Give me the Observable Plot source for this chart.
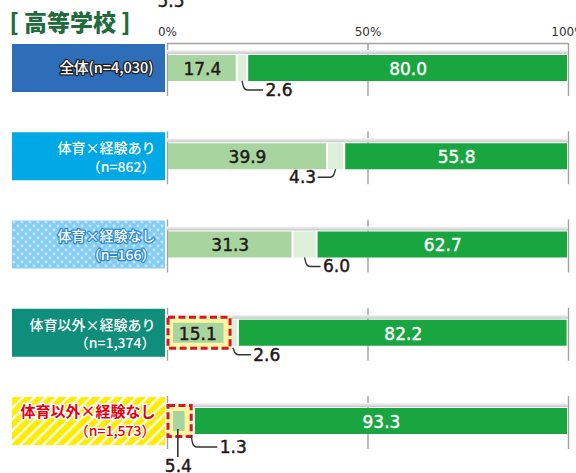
<!DOCTYPE html>
<html><head><meta charset="utf-8">
<script src="https://cdn.jsdelivr.net/npm/d3@7"></script>
<script src="https://cdn.jsdelivr.net/npm/@observablehq/plot@0.6"></script>
<style>html,body{margin:0;padding:0;background:#fff;overflow:hidden}#chart svg{display:block}</style>
</head><body><div id="chart"></div>
<script>
// ---- data ----
const groups = ["全体", "体育×経験あり", "体育×経験なし", "体育以外×経験あり", "体育以外×経験なし"];
const sampleSizes = ["(n=4,030)", "（n=862）", "（n=166）", "（n=1,374）", "（n=1,573）"];
const seriesA = [17.4, 39.9, 31.3, 15.1, 5.4];
const seriesB = [2.6, 4.3, 6.0, 2.6, 1.3];
const seriesC = [80.0, 55.8, 62.7, 82.2, 93.3];
const xTicks = [0, 50, 100];
const highlightedGroups = ["体育以外×経験あり", "体育以外×経験なし"];
const title = "[ 高等学校 ]";
const strayLabel = "5.5";

// ---- style / layout ----
const fontJP = "'Noto Sans CJK JP', 'Noto Sans', sans-serif";
const fontNum = "'DejaVu Sans', sans-serif";
const textDark = "#231815";
const segColors = {a: "#a8d59f", b: "#ddefd9", c: "#19a640"};
const boxFill = ["#2e6db8", "#00a8e6", "url(#dots)", "#0f8e7c", "url(#stripes)"];
const labelFill = ["#ffffff", "#ffffff", "#ffffff", "#ffffff", "#e60012"];
const labelStroke = ["#1e1e1e", "none", "#2a8ad0", "none", "#ffffff"];
const leaderLayout = [
  {side: 1, dy: 22, len: 21},
  {side: -1, dy: 21, len: 18},
  {side: 1, dy: 22, len: 16},
  {side: 1, dy: 22, len: 18},
  {side: 1, dy: 26, len: 26}
];

const rows = groups.map((group, i) => ({
  i, group, n: sampleSizes[i], a: seriesA[i], b: seriesB[i], c: seriesC[i],
  hi: highlightedGroups.includes(group)
}));
const segments = rows.flatMap(r => [
  {i: r.i, key: "a", x1: 0, x2: r.a, hi: r.hi},
  {i: r.i, key: "b", x1: r.a, x2: r.a + r.b, hi: false},
  {i: r.i, key: "c", x1: r.a + r.b, x2: r.a + r.b + r.c, hi: false}
]);
const grid = rows.flatMap(r => xTicks.map(t => ({i: r.i, t})));
const inside = r => r.a >= 10;

function defsMark() {
  const defs = d3.create("svg:defs");
  const dots = defs.append("pattern").attr("id", "dots").attr("patternUnits", "userSpaceOnUse")
    .attr("width", 8).attr("height", 8);
  dots.append("rect").attr("width", 8).attr("height", 8).attr("fill", "#86cdf3");
  dots.append("circle").attr("cx", 2).attr("cy", 2).attr("r", 1.4).attr("fill", "#c4e8fb");
  dots.append("circle").attr("cx", 6).attr("cy", 6).attr("r", 1.4).attr("fill", "#c4e8fb");
  const st = defs.append("pattern").attr("id", "stripes").attr("patternUnits", "userSpaceOnUse")
    .attr("width", 8).attr("height", 8).attr("patternTransform", "rotate(45)");
  st.append("rect").attr("width", 8).attr("height", 8).attr("fill", "#ffec00");
  st.append("rect").attr("width", 2.2).attr("height", 8).attr("fill", "#ffffff");
  const gr = defs.append("linearGradient").attr("id", "shade").attr("x1", 0).attr("y1", 0).attr("x2", 0).attr("y2", 1);
  gr.append("stop").attr("offset", "0%").attr("stop-color", "#f6f6f6");
  gr.append("stop").attr("offset", "100%").attr("stop-color", "#c6c6c6");
  return defs.node();
}

function leaderMark(index, scales) {
  const x = scales.x, y = scales.y;
  const g = d3.create("svg:g").attr("fill", "none").attr("stroke", "#333").attr("stroke-width", 1.3);
  for (const r of rows) {
    const L = leaderLayout[r.i];
    const xm = x(r.a + r.b / 2), yc = y(r.i);
    const y0 = yc + (r.hi ? 15 : 13), yL = yc + L.dy, s = L.side;
    g.append("path").attr("d",
      `M${xm},${y0}L${xm + s},${yL - 5}Q${xm + 2 * s},${yL} ${xm + 6 * s},${yL}L${xm + s * L.len},${yL}`);
    if (!inside(r)) {
      const xa = x(r.a / 2);
      g.append("path").attr("d", `M${xa},${yc + 8}L${xa},${yc + 36}`).attr("stroke-width", 1.6);
    }
  }
  return g.node();
}

const hiSegs = segments.filter(d => d.key === "a" && d.hi);
const halo = {paintOrder: "stroke", strokeLinejoin: "round"};
const numDark = {fontFamily: fontNum, fontSize: 17, fill: textDark, stroke: textDark, strokeWidth: 0.45};

const marks = [
  defsMark,
  // gridline segments per row
  Plot.ruleX(grid, {x: "t", y1: "i", y2: "i", insetTop: -25, insetBottom: -28, stroke: "#a2a2a2", strokeWidth: 1.4}),
  // top axis line
  Plot.ruleY([0], {y: d => d, x1: 0, x2: 100, dy: -25, stroke: "#a2a2a2", strokeWidth: 1.5}),
  // shadow strip above bars
  Plot.rect(rows, {x1: 0, x2: 100, y1: "i", y2: "i", insetTop: -18, insetBottom: 14, fill: "url(#shade)"}),
  // label boxes
  Plot.rect(rows, {x1: 0, x2: 0, y1: "i", y2: "i", insetLeft: -155, insetRight: 2, insetTop: -24, insetBottom: -24,
    fill: d => boxFill[d.i]}),
  // bar segments
  Plot.rect(segments.filter(d => !(d.key === "a" && d.hi)), {x1: "x1", x2: "x2", y1: "i", y2: "i",
    insetLeft: 1, insetRight: 1, insetTop: -13, insetBottom: -13, fill: d => segColors[d.key]}),
  // highlight boxes
  Plot.rect(hiSegs, {x1: "x1", x2: "x2", y1: "i", y2: "i", insetLeft: 1, insetRight: -2.5, insetTop: -15.5, insetBottom: -15.5,
    fill: "#fff7a0", stroke: "#fff7a0", strokeWidth: 3}),
  Plot.rect(hiSegs, {x1: "x1", x2: "x2", y1: "i", y2: "i", insetLeft: 1, insetRight: -2.5, insetTop: -15.5, insetBottom: -15.5,
    fill: "none", stroke: "#cf1538", strokeWidth: 3, strokeDasharray: "7,3.5"}),
  Plot.rect(hiSegs, {x1: "x1", x2: "x2", y1: "i", y2: "i", insetLeft: 6, insetRight: 4, insetTop: -10, insetBottom: -10,
    fill: segColors.a}),
  // segment labels
  Plot.text(rows.filter(inside), {x: d => d.a / 2, y: "i", dy: 1, text: d => d.a.toFixed(1), ...numDark}),
  Plot.text(rows, {x: d => d.a + d.b + d.c / 2, y: "i", dy: 1, text: d => d.c.toFixed(1),
    fontFamily: fontNum, fontSize: 17, fill: "#ffffff", stroke: "#ffffff", strokeWidth: 0.4}),
  // leaders
  leaderMark,
  ...rows.map(r => {
    const L = leaderLayout[r.i];
    return Plot.text([r], {x: d => d.a + d.b / 2, y: "i", text: d => d.b.toFixed(1),
      dx: L.side * (L.len + 2), dy: L.dy, textAnchor: L.side > 0 ? "start" : "end", ...numDark});
  }),
  Plot.text(rows.filter(r => !inside(r)), {x: d => d.a / 2, y: "i", dy: 45, text: d => d.a.toFixed(1), ...numDark}),
  // group labels
  Plot.text(rows.filter(r => r.i === 0), {x: 0, y: "i", dx: -14, dy: 0, textAnchor: "end", text: d => d.group + d.n,
    fontSize: 14.5, fontWeight: 500, fill: d => labelFill[d.i], stroke: d => labelStroke[d.i], strokeWidth: 2.5, ...halo}),
  Plot.text(rows.filter(r => r.i > 0 && r.i < 4), {x: 0, y: "i", dx: -12, dy: -8, textAnchor: "end", text: "group",
    fontSize: 14, fontWeight: 500, fill: d => labelFill[d.i], stroke: d => labelStroke[d.i], strokeWidth: 2.5, ...halo}),
  Plot.text(rows.filter(r => r.i === 4), {x: 0, y: "i", dx: -12, dy: -9, textAnchor: "end", text: "group",
    fontSize: 15, fontWeight: 700, fill: d => labelFill[d.i], stroke: d => labelStroke[d.i], strokeWidth: 3, ...halo}),
  Plot.text(rows.filter(r => r.i > 0), {x: 0, y: "i", dx: -12, dy: 10.5, textAnchor: "end", text: "n",
    fontSize: 14, fontWeight: 500, fill: d => labelFill[d.i], stroke: d => labelStroke[d.i], strokeWidth: 2.5, ...halo}),
  // tick labels
  Plot.text(xTicks, {x: d => d, frameAnchor: "top", dy: -11, lineAnchor: "middle", text: d => d + "%",
    fontFamily: fontNum, fontSize: 12, fill: "#333"}),
  // title
  Plot.text([title], {frameAnchor: "top-left", text: d => d, dx: -158, dy: -20, lineAnchor: "middle",
    fontSize: 23, fontWeight: 900, fill: "#1f6b3d"}),
  Plot.text([strayLabel], {frameAnchor: "top-left", text: d => d, dx: -10, dy: -42, lineAnchor: "middle", ...numDark})
];

const chart = Plot.plot({
  width: 576, height: 473,
  marginLeft: 167, marginRight: 8, marginTop: 43, marginBottom: 0,
  style: {fontFamily: fontJP, background: "#ffffff"},
  x: {domain: [0, 100], axis: null},
  y: {domain: [0, 4], range: [68, 421], axis: null},
  color: {type: "identity"},
  marks
});
document.getElementById("chart").append(chart);
</script>
</body></html>
